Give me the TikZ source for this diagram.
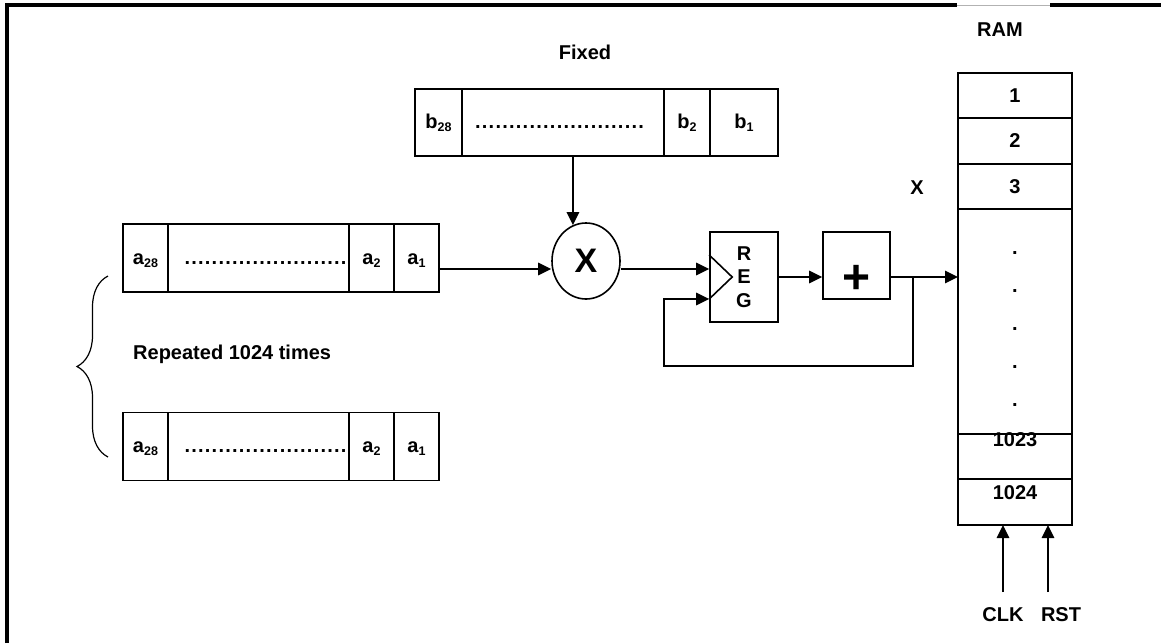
\documentclass[tikz,border=0pt]{standalone}
\usepackage{fontspec}
\setmainfont{Liberation Sans}
\usetikzlibrary{positioning,shapes.geometric,arrows.meta,decorations.pathreplacing}

\tikzset{
  cell/.style={draw,line width=1.6pt,inner sep=0pt,outer sep=0pt,minimum height=68,text height=12pt,text depth=0pt},
  ramcell/.style={draw,line width=1.6pt,inner sep=0pt,outer sep=0pt,minimum width=114},
  arr/.style={line width=1.6pt,-{Triangle[length=13pt,width=12.5pt]}},
  wire/.style={line width=1.6pt},
}
\newcommand{\cellleaders}[3]{\hbox to #1{\hskip #2\cleaders\hbox to 6.8pt{\hss.\hss}\hfill\hskip #3}}
\newcommand{\idx}[1]{\raisebox{-3pt}{\fontsize{12.5}{12.5}\selectfont #1}}

\begin{document}
\begin{tikzpicture}[x=1pt,y=-1pt,font=\fontsize{20}{24}\selectfont\bfseries]
  \useasboundingbox (0,0) rectangle (1161,643);

  % outer frame
  \draw[line width=4pt] (7,643) -- (7,5) -- (957,5);
  \draw[gray!60,line width=0.8pt] (957,5) -- (1050,5);
  \draw[line width=4pt] (1050,5) -- (1161,5);

  % fixed coefficients
  \node (fixed) at (585,52) {Fixed};
  \node[cell,minimum width=47,minimum height=67] (b28) at (438.5,122.5) {b\idx{28}};
  \node[cell,minimum width=202,minimum height=67,right=0pt of b28] (bdots) {\cellleaders{202pt}{10pt}{17pt}};
  \node[cell,minimum width=46,minimum height=67,right=0pt of bdots] (b2) {b\idx{2}};
  \node[cell,minimum width=68,minimum height=67,right=0pt of b2] (b1) {b\idx{1}\hspace{10pt}};

  % input words
  \node[cell,minimum width=45] (a28) at (145.5,258) {a\idx{28}};
  \node[cell,minimum width=181,right=0pt of a28] (adots) {\cellleaders{181pt}{14pt}{0pt}};
  \node[cell,minimum width=45,right=0pt of adots] (a2) {a\idx{2}};
  \node[cell,minimum width=45,right=0pt of a2] (a1) {a\idx{1}};

  \node[cell,minimum width=45] (a28b) at (145.5,446.5) {a\idx{28}};
  \node[cell,minimum width=181,right=0pt of a28b] (adotsb) {\cellleaders{181pt}{14pt}{0pt}};
  \node[cell,minimum width=45,right=0pt of adotsb] (a2b) {a\idx{2}};
  \node[cell,minimum width=45,right=0pt of a2b] (a1b) {a\idx{1}};

  \draw[decorate,decoration={brace,amplitude=31pt},line width=1.2pt] (108,457) -- (108,276);
  \node[anchor=west,inner sep=0pt] (rep) at (133,354) {Repeated 1024 times};

  % multiplier, register, adder
  \node[draw,ellipse,line width=1.6pt,minimum width=68,minimum height=76,inner sep=0pt,
        font=\fontsize{34}{34}\selectfont\bfseries] (mul) at (586,261) {X};
  \node[draw,line width=1.6pt,minimum width=68,minimum height=90,inner sep=0pt,align=center,
        font=\fontsize{20}{23.5}\selectfont\bfseries] (reg) at (744,277) {R\\E\\G};
  \draw[wire] ([yshift=22pt]reg.west) -- ([xshift=23pt]reg.west) -- ([yshift=-22pt]reg.west);
  \node[draw,line width=1.6pt,minimum width=67,minimum height=67,inner sep=0pt,text height=55pt,text depth=0pt,
        font=\fontsize{48}{48}\selectfont\bfseries] (plus) at (856.5,265.5) {+};

  % RAM
  \node (ramlbl) at (1000,30) {RAM};
  \node (xlbl) at (917,188) {X};
  \node[ramcell,minimum height=45] (r1) at (1015,95.5) {1};
  \node[ramcell,minimum height=46,below=0pt of r1] (r2) {2};
  \node[ramcell,minimum height=45,below=0pt of r2] (r3) {3};
  \node[ramcell,minimum height=225,below=0pt of r3] (rdots) {};
  \node[ramcell,minimum height=45,below=0pt of rdots] (r1023) {};
  \node[ramcell,minimum height=46,below=0pt of r1023] (r1024) {};
  \foreach \y in {253,291,329,367,405}
    \node (rd\y) at (1015,\y) {.};
  \node (l1023) at ([yshift=-6pt]r1023.north) {1023};
  \node (l1024) at ([yshift=-14pt]r1024.north) {1024};

  % connections
  \draw[arr] (bdots.south -| mul.110) -- (mul.110);
  \draw[arr] ([yshift=-11pt]a1.east) -- ([yshift=-11pt]a1.east -| mul.west);
  \draw[arr] ([yshift=-8pt]mul.east) -- ([yshift=-8pt]mul.east -| reg.west);
  \draw[arr] (reg.east) -- (reg.east -| plus.west);
  \draw[arr] (reg.east -| plus.east) -- (reg.east -| rdots.west);
  \coordinate (tap) at (913,277);
  \coordinate (loop) at (664,366);
  \draw[arr] (tap) |- (loop) |- ([yshift=-22pt]reg.west);

  % control inputs
  \node (clk) at (1003,615) {CLK};
  \node (rst) at (1061,615) {RST};
  \coordinate (clkin) at (1003,592);
  \coordinate (rstin) at (1048,592);
  \draw[arr] (clkin) -- (clkin |- r1024.south);
  \draw[arr] (rstin) -- (rstin |- r1024.south);
\end{tikzpicture}
\end{document}
